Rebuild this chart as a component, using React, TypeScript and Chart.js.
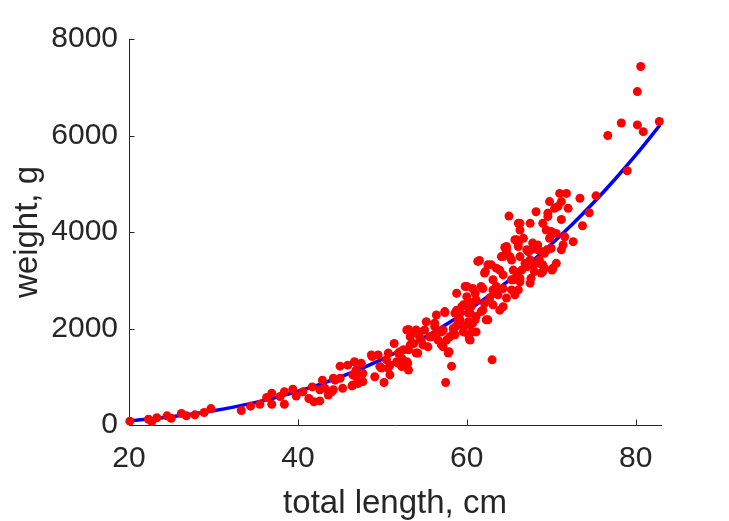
import React, { useEffect, useRef } from "react";
import { Chart, registerables } from "chart.js";

Chart.register(...registerables);

// Observed fish: total length (cm)
const lengths: number[] = [
  20.1, 22.3, 22.7, 23.3, 24.5, 25.0, 26.2, 26.8, 27.8, 28.9, 29.7, 33.3, 34.4, 35.5, 36.3, 36.9, 36.9, 37.9, 38.4, 38.4,
  39.4, 39.8, 40.6, 41.3, 41.7, 41.9, 42.6, 42.6, 42.9, 43.2, 43.6, 44.0, 44.2, 44.2, 44.4, 45.0, 45.0, 45.3, 45.9, 46.4,
  46.5, 46.5, 46.7, 46.9, 46.9, 47.1, 47.5, 47.7, 47.7, 48.7, 48.8, 49.1, 49.5, 49.7, 49.9, 50.2, 50.5, 50.7, 50.7, 50.9,
  50.9, 51.4, 51.7, 51.9, 51.9, 52.1, 52.3, 52.3, 52.5, 52.9, 52.9, 53.0, 53.1, 53.1, 53.1, 53.3, 53.3, 53.5, 53.7, 54.0,
  54.0, 54.2, 54.4, 54.4, 54.6, 54.8, 55.0, 55.2, 55.4, 55.6, 55.8, 56.2, 56.2, 56.4, 56.4, 56.6, 57.0, 57.0, 57.2, 57.2,
  57.4, 57.4, 57.5, 57.6, 57.8, 57.9, 58.0, 58.2, 58.4, 58.4, 58.6, 58.6, 58.7, 58.8, 58.8, 58.8, 59.0, 59.2, 59.2, 59.4,
  59.6, 59.6, 59.6, 59.8, 59.8, 60.0, 60.0, 60.2, 60.2, 60.2, 60.2, 60.3, 60.4, 60.4, 60.4, 60.5, 60.6, 60.7, 60.7, 61.0,
  61.0, 61.1, 61.1, 61.1, 61.3, 61.5, 61.7, 61.7, 61.9, 61.9, 62.1, 62.1, 62.2, 62.3, 62.5, 62.5, 62.7, 62.9, 63.0, 63.1,
  63.1, 63.1, 63.3, 63.5, 63.5, 63.7, 63.9, 63.9, 64.1, 64.3, 64.3, 64.3, 64.3, 64.5, 64.7, 64.7, 64.7, 64.7, 65.0, 65.1,
  65.3, 65.3, 65.3, 65.5, 65.5, 65.7, 65.7, 65.9, 65.9, 66.1, 66.1, 66.1, 66.1, 66.3, 66.3, 66.3, 66.3, 66.3, 66.5, 66.7,
  66.9, 67.1, 67.1, 67.3, 67.3, 67.5, 67.5, 67.5, 67.6, 67.6, 67.8, 67.9, 68.0, 68.2, 68.4, 68.4, 68.6, 68.6, 68.8, 69.0,
  69.0, 69.0, 69.0, 69.2, 69.2, 69.4, 69.5, 69.6, 69.6, 69.8, 69.8, 70.0, 70.0, 70.1, 70.2, 70.4, 70.6, 70.6, 70.8, 71.0,
  71.2, 71.2, 71.2, 71.4, 71.6, 71.8, 72.0, 72.6, 73.4, 73.7, 74.5, 75.3, 76.7, 78.3, 79.0, 80.2, 80.2, 80.6, 80.9, 82.8,
];

// Observed fish: weight (g)
const weights: number[] = [
  80, 120, 70, 150, 190, 140, 240, 190, 210, 260, 340, 300, 390, 430, 570, 660, 430, 590, 690, 430,
  740, 600, 690, 550, 790, 480, 500, 730, 930, 760, 620, 690, 730, 970, 930, 970, 1220, 760, 1240, 810,
  1040, 830, 1310, 1140, 1000, 860, 1280, 1070, 900, 1450, 1420, 1000, 1450, 1210, 1180, 880, 1350, 1490, 1180, 1240,
  1040, 1690, 1310, 1490, 1280, 1520, 1210, 1380, 1560, 1970, 1310, 1280, 1140, 1980, 1560, 1660, 1830, 1900, 1690, 1490,
  1970, 1490, 1930, 1830, 1760, 1660, 1970, 2140, 1620, 1830, 1830, 2040, 2110, 2280, 1900, 1760, 1930, 1660, 1620, 1970,
  2350, 2330, 880, 1760, 1490, 1520, 1830, 1220, 1900, 2000, 1870, 2320, 2040, 2730, 2350, 2380, 2180, 2180, 2320, 2450,
  2040, 1930, 2490, 2870, 2470, 2870, 2660, 2560, 2140, 1870, 2320, 1780, 2070, 1760, 2320, 2450, 1930, 2110, 2830, 2730,
  2180, 2250, 2590, 1930, 3390, 3410, 2870, 2350, 2380, 2830, 3150, 2520, 3180, 2180, 3320, 2180, 2630, 3320, 1350, 3010,
  2800, 2490, 2730, 2870, 3250, 2700, 3210, 2380, 3490, 2450, 3110, 2830, 3490, 3680, 3660, 3590, 2630, 3700, 4330, 3490,
  3420, 3010, 2800, 3010, 3210, 2700, 3840, 3840, 3150, 4180, 3770, 2800, 3700, 4040, 3490, 2970, 4180, 3040, 3210, 3870,
  3350, 3630, 3280, 3320, 3590, 2940, 4180, 3420, 3630, 3040, 3770, 3320, 3180, 4420, 3630, 3730, 3350, 3420, 3150, 3180,
  4180, 3590, 3320, 3560, 3250, 4040, 3630, 4320, 4390, 4630, 3870, 4010, 3660, 3210, 3250, 4490, 3350, 3970, 4530, 4800,
  3630, 4260, 4630, 3730, 3900, 4800, 4490, 3800, 4700, 4130, 4400, 4750, 6000, 6260, 5270, 6910, 6220, 7430, 6080, 6290,
];

// Fitted curve
const fitLengths: number[] = [20, 22.5, 25, 27.5, 30, 32.5, 35, 37.5, 40, 42.5, 45, 47.5, 50, 52.5, 55, 57.5, 60, 62.5, 65, 67.5, 70, 72.5, 75, 77.5, 80, 83];
const fitWeights: number[] = [87, 124, 171, 227, 295, 375, 468, 576, 699, 838, 995, 1170, 1365, 1580, 1817, 2076, 2359, 2666, 2999, 3358, 3746, 4161, 4607, 5083, 5591, 6244];

const xTicks: number[] = [20, 40, 60, 80];
const yTicks: number[] = [0, 2000, 4000, 6000, 8000];

const xLabel = "total length, cm";
const yLabel = "weight, g";

const AXIS_COLOR = "#262626";
const FONT_FAMILY = "'Liberation Sans', Arial, Helvetica, sans-serif";

const innerTicks = {
  id: "innerTicks",
  beforeDatasetsDraw(chart: any) {
    const { ctx, chartArea } = chart;
    const xs = chart.scales.x;
    const ys = chart.scales.y;
    const len = 5.5;
    ctx.save();
    ctx.strokeStyle = AXIS_COLOR;
    ctx.lineWidth = 1;
    ctx.beginPath();
    xTicks.forEach((v) => {
      const px = Math.round(xs.getPixelForValue(v)) + 0.5;
      ctx.moveTo(px, chartArea.bottom);
      ctx.lineTo(px, chartArea.bottom - len);
    });
    yTicks.forEach((v) => {
      const py = Math.round(ys.getPixelForValue(v)) + 0.5;
      ctx.moveTo(chartArea.left, py);
      ctx.lineTo(chartArea.left + len, py);
    });
    ctx.stroke();
    ctx.restore();
  },
};

export default function App() {
  const ref = useRef<HTMLCanvasElement | null>(null);

  useEffect(() => {
    if (!ref.current) return;
    const points = lengths.map((l, i) => ({ x: l, y: weights[i] }));
    const curve = fitLengths.map((l, i) => ({ x: l, y: fitWeights[i] }));
    const chart = new Chart(ref.current, {
      type: "scatter",
      data: {
        datasets: [
          {
            label: "data",
            data: points,
            backgroundColor: "#ff0000",
            borderColor: "#ff0000",
            borderWidth: 0,
            pointRadius: 4.5,
            pointHoverRadius: 4.5,
            clip: false as any,
            order: 0,
          },
          {
            label: "fit",
            data: curve,
            showLine: true,
            borderColor: "#0000ff",
            backgroundColor: "#0000ff",
            borderWidth: 3.5,
            pointRadius: 0,
            cubicInterpolationMode: "monotone",
            order: 1,
          } as any,
        ],
      },
      options: {
        animation: false,
        responsive: false,
        devicePixelRatio: 1,
        layout: { padding: { left: 0, top: 39, right: 68, bottom: 0 } },
        plugins: { legend: { display: false }, tooltip: { enabled: false } },
        scales: {
          x: {
            type: "linear",
            min: 20,
            max: 83,
            afterFit: (s: any) => {
              s.height = 96;
            },
            afterBuildTicks: (s: any) => {
              s.ticks = xTicks.map((v) => ({ value: v }));
            },
            grid: { display: false },
            border: { display: true, color: AXIS_COLOR, width: 1 },
            ticks: {
              includeBounds: false,
              stepSize: 20,
              padding: 8,
              color: AXIS_COLOR,
              font: { family: FONT_FAMILY, size: 30 },
              maxRotation: 0,
              callback: (v: any) => String(v),
            },
            title: {
              display: true,
              text: xLabel,
              color: AXIS_COLOR,
              font: { family: FONT_FAMILY, size: 33, lineHeight: 1.2 },
              padding: { top: 0, bottom: -3 },
            },
          },
          y: {
            type: "linear",
            min: 0,
            max: 8000,
            afterFit: (s: any) => {
              s.width = 129;
            },
            afterBuildTicks: (s: any) => {
              s.ticks = yTicks.map((v) => ({ value: v }));
            },
            grid: { display: false },
            border: { display: true, color: AXIS_COLOR, width: 1 },
            ticks: {
              stepSize: 2000,
              padding: 3,
              color: AXIS_COLOR,
              font: { family: FONT_FAMILY, size: 30 },
              callback: (v: any) => String(v),
            },
            title: {
              display: true,
              text: yLabel,
              color: AXIS_COLOR,
              font: { family: FONT_FAMILY, size: 33, lineHeight: 1.2 },
              padding: { top: 8, bottom: 0 },
            },
          },
        },
      },
      plugins: [innerTicks],
    });
    return () => chart.destroy();
  }, []);

  return (
    <div style={{ position: "absolute", left: 0, top: 0, width: 729, height: 521, background: "#ffffff" }}>
      <canvas ref={ref} width={729} height={521} style={{ display: "block", width: 729, height: 521 }} />
    </div>
  );
}
